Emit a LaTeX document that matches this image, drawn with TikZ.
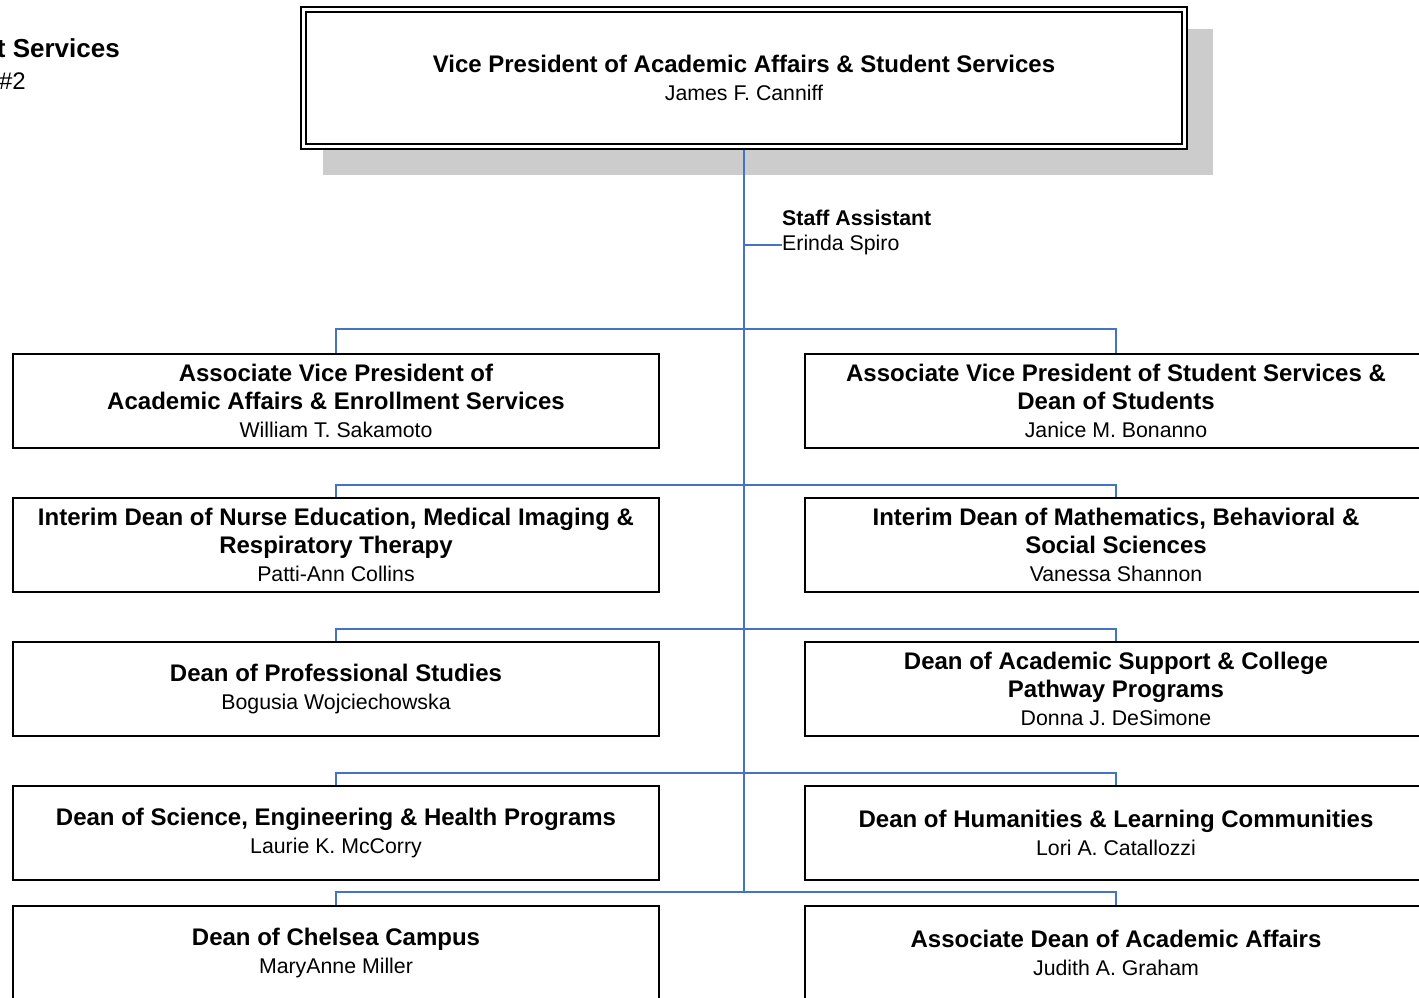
\documentclass[tikz,border=0pt]{standalone}
\usepackage{fontspec}
\setmainfont{Liberation Sans}
\definecolor{orgblue}{RGB}{68,114,196}
\newcommand\who[1]{{\fontsize{21.3}{28}\selectfont\mdseries #1}}
\begin{document}
\begin{tikzpicture}[x=1pt, y=-1pt,
    unit/.style={draw, line width=2pt, fill=white, minimum height=94pt, inner sep=0pt,
        align=center, font=\fontsize{24}{28}\selectfont\bfseries},
    lunit/.style={unit, minimum width=646pt},
    runit/.style={unit, minimum width=622pt},
    link/.style={orgblue, line width=1.5pt},
    spine/.style={orgblue, line width=2pt}]
    \useasboundingbox (0,0) rectangle (1419,998);
    \clip (0,0) rectangle (1419,998);
    % page heading, cut off at the left edge
    \node[anchor=east, inner sep=0pt, font=\fontsize{26}{30}\selectfont\bfseries] (head) at (120,48) {Academic Affairs \& Student Services};
    \node[anchor=east, inner sep=0pt, font=\fontsize{24}{28}\selectfont] (chart) at (26,81) {Chart \#2};
    % vice president
    \fill[gray!40] (323,29) rectangle (1213,175);
    \node[unit, minimum width=881pt, minimum height=137pt, double=white, double distance=3pt, outer sep=3.5pt] (top) at (744,78)
        {Vice President of Academic Affairs \& Student Services\\ \who{James F. Canniff}};
    \node[anchor=west, inner sep=0pt, font=\fontsize{21.3}{28}\selectfont\bfseries] (staff) at (782,218) {Staff Assistant};
    \node[anchor=west, inner sep=0pt, font=\fontsize{21.3}{28}\selectfont] (spiro) at (782,245) {Erinda Spiro};
    % deans, left column
    \node[lunit] (l1) at (336,401) {Associate Vice President of\\ Academic Affairs \& Enrollment Services\\ \who{William T. Sakamoto}};
    \node[lunit] (l2) at (336,545) {Interim Dean of Nurse Education, Medical Imaging \&\\ Respiratory Therapy\\ \who{Patti-Ann Collins}};
    \node[lunit] (l3) at (336,689) {Dean of Professional Studies\\ \who{Bogusia Wojciechowska}};
    \node[lunit] (l4) at (336,833) {Dean of Science, Engineering \& Health Programs\\ \who{Laurie K. McCorry}};
    \node[lunit] (l5) at (336,953) {Dean of Chelsea Campus\\ \who{MaryAnne Miller}};
    % deans, right column
    \node[runit] (r1) at (1116,401) {Associate Vice President of Student Services \&\\ Dean of Students\\ \who{Janice M. Bonanno}};
    \node[runit] (r2) at (1116,545) {Interim Dean of Mathematics, Behavioral \&\\ Social Sciences\\ \who{Vanessa Shannon}};
    \node[runit] (r3) at (1116,689) {Dean of Academic Support \& College\\ Pathway Programs\\ \who{Donna J. DeSimone}};
    \node[runit] (r4) at (1116,833) {Dean of Humanities \& Learning Communities\\ \who{Lori A. Catallozzi}};
    \node[runit] (r5) at (1116,953) {Associate Dean of Academic Affairs\\ \who{Judith A. Graham}};
    % connectors
    \foreach \i/\y in {1/329,2/485,3/629,4/773,5/892}
        \draw[link] (l\i.north) -- (l\i.north |- 0,\y) -- (r\i.north |- 0,\y) -- (r\i.north);
    \draw[spine] (top.south) -- (top.south |- 0,892);
    \draw[link] (top.south |- spiro.west) -- (spiro.west);
\end{tikzpicture}
\end{document}
